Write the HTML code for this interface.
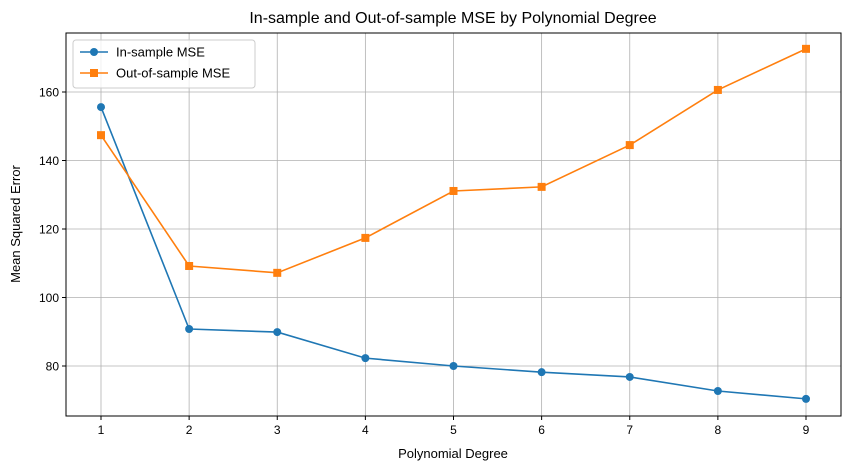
<!DOCTYPE html>
<html><head><meta charset="utf-8">
<style>
html,body{margin:0;padding:0;background:#fff;}
svg{display:block;font-family:"Liberation Sans","DejaVu Sans",sans-serif;}
</style></head>
<body>
<svg id="chart" width="850" height="470" viewBox="0 0 850 470">
<text x="453" y="23" text-anchor="middle" font-size="16" fill="#000">In-sample and Out-of-sample MSE by Polynomial Degree</text>
<g id="grid"></g>
<g id="ticks"></g>
<g id="series"></g>
<rect x="66" y="33" width="775" height="383" fill="none" stroke="#000" stroke-width="1"/>
<text x="453" y="458" text-anchor="middle" font-size="13">Polynomial Degree</text>
<text transform="translate(20,224) rotate(-90)" text-anchor="middle" font-size="13">Mean Squared Error</text>
<g>
<rect x="73" y="40" width="182" height="48" rx="3" fill="#fff" fill-opacity="0.8" stroke="#ccc"/>
<g>
<line x1="80" y1="52" x2="108" y2="52" stroke="#1f77b4" stroke-width="1.5"/>
<circle cx="94" cy="52" r="4" fill="#1f77b4"/>
<text x="116" y="56.5" font-size="13">In-sample MSE</text></g>
<g>
<line x1="80" y1="73" x2="108" y2="73" stroke="#ff7f0e" stroke-width="1.5"/>
<rect x="90" y="69" width="8" height="8" fill="#ff7f0e"/>
<text x="116" y="77.5" font-size="13">Out-of-sample MSE</text></g>
</g>
</svg>
<script>
const degrees = [1,2,3,4,5,6,7,8,9];
const inSample = [155.6,90.8,89.9,82.3,80.0,78.2,76.8,72.7,70.4];
const outSample = [147.4,109.2,107.2,117.4,131.1,132.3,144.5,160.6,172.6];
const yTicks = [80,100,120,140,160];

const NS="http://www.w3.org/2000/svg";
const L=66,R=841,T=33,B=416;
function xs(v){return 101+(v-1)*88.125;}
function ys(v){return 366-(v-80)*3.425;}
const grid=document.getElementById('grid'),ticks=document.getElementById('ticks'),ser=document.getElementById('series');
function mk(tag,attrs,parent){const e=document.createElementNS(NS,tag);for(const k in attrs)e.setAttribute(k,attrs[k]);parent.appendChild(e);return e;}
degrees.forEach(d=>{
  const x=xs(d);
  const g=mk('line',{x1:x,x2:x,y1:T,y2:B,stroke:'#b0b0b0','stroke-width':0.8},grid);
  
  
  mk('line',{x1:x,x2:x,y1:B,y2:B+4,stroke:'#000'},ticks);
  const t=mk('text',{x:x,y:B+18,'text-anchor':'middle','font-size':12},ticks);
  t.textContent=d;
  
  
});
yTicks.forEach(v=>{
  const y=ys(v);
  const g=mk('line',{x1:L,x2:R,y1:y,y2:y,stroke:'#b0b0b0','stroke-width':0.8},grid);
  
  
  mk('line',{x1:L-4,x2:L,y1:y,y2:y,stroke:'#000'},ticks);
  const t=mk('text',{x:L-7,y:y+4.5,'text-anchor':'end','font-size':12},ticks);
  t.textContent=v;
  
  
});
function draw(vals,color,marker,name){
  const pts=degrees.map((d,i)=>xs(d)+','+ys(vals[i])).join(' ');
  const pl=mk('polyline',{points:pts,fill:'none',stroke:color,'stroke-width':1.6},ser);
  
  
  degrees.forEach((d,i)=>{
    let m;
    if(marker==='circle') m=mk('circle',{cx:xs(d),cy:ys(vals[i]),r:4,fill:color},ser);
    else m=mk('rect',{x:xs(d)-4,y:ys(vals[i])-4,width:8,height:8,fill:color},ser);
    
    
  });
}
draw(inSample,'#1f77b4','circle','in-sample');
draw(outSample,'#ff7f0e','square','out-of-sample');
</script>
</body></html>
